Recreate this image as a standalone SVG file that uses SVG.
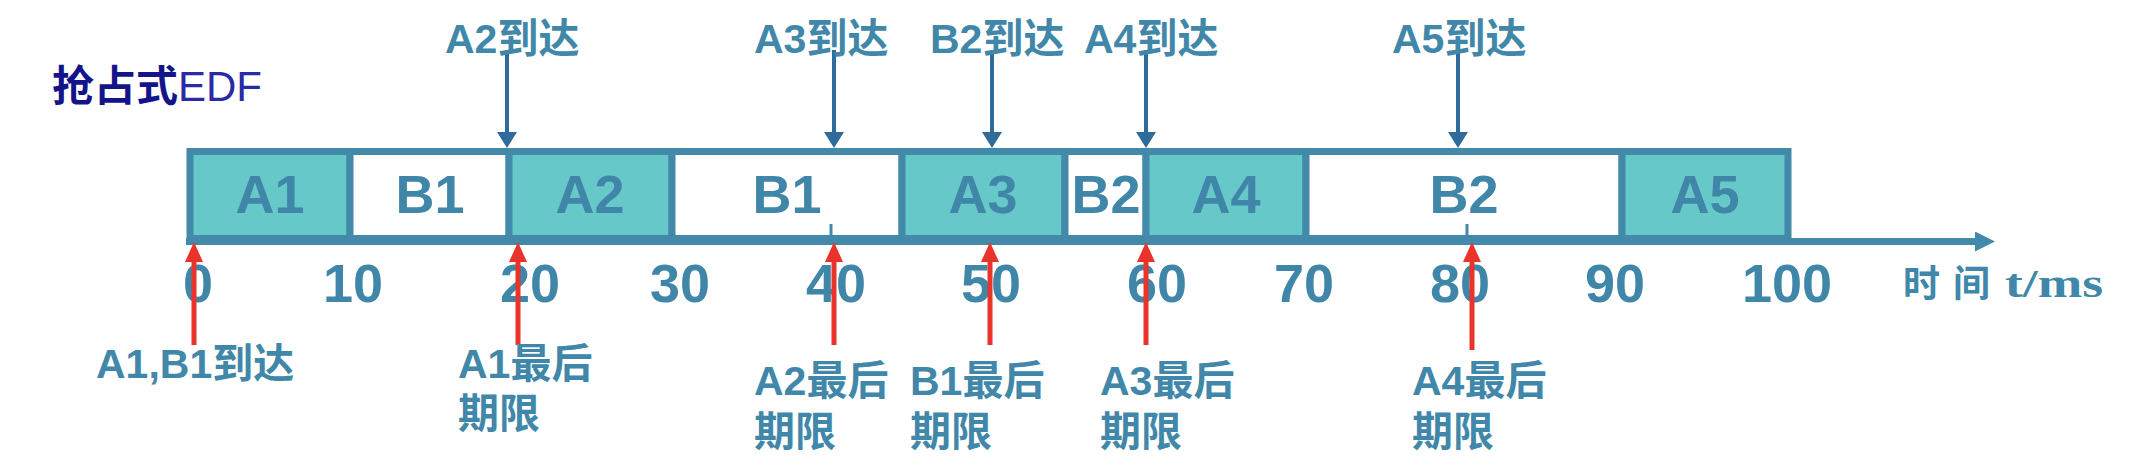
<svg xmlns="http://www.w3.org/2000/svg" width="2132" height="464" viewBox="0 0 2132 464">
<style>
.bg{fill:#ffffff}
.seg{stroke:#4389a9;stroke-width:7}
.a{fill:#66c8c9}
.b{fill:#ffffff}
.seglbl{font-family:"Liberation Sans","Noto Sans CJK SC",sans-serif;font-weight:bold;font-size:54px;fill:#3f86a8;text-anchor:middle}
.tick{font-family:"Liberation Sans",sans-serif;font-weight:bold;font-size:54px;fill:#3f86a8;text-anchor:middle}
.lbl{font-family:"Liberation Sans","Noto Sans CJK SC",sans-serif;font-weight:bold;font-size:41px;fill:#4087a9}
.down{stroke:#2f6b9b;stroke-width:4;fill:none}
.up{stroke:#e8342a;stroke-width:5;fill:none}
.axis{stroke:#4389a9;stroke-width:7;fill:none}
.mtick{stroke:#4389a9;stroke-width:3}
</style>
<defs>
<marker id="hDown" viewBox="0 0 16 20" refX="4" refY="10" markerWidth="16" markerHeight="20" markerUnits="userSpaceOnUse" orient="auto">
<path d="M0,0 L16,10 L0,20 z" fill="#2f6b9b"/>
</marker>
<marker id="hUp" viewBox="0 0 20 18" refX="6" refY="9" markerWidth="20" markerHeight="18" markerUnits="userSpaceOnUse" orient="auto">
<path d="M0,0 L20,9 L0,18 z" fill="#e8342a"/>
</marker>
<marker id="hAxis" viewBox="0 0 20 20" refX="5" refY="10" markerWidth="20" markerHeight="20" markerUnits="userSpaceOnUse" orient="auto">
<path d="M0,0 L20,10 L0,20 z" fill="#4389a9"/>
</marker>
</defs>
<rect class="bg" x="0" y="0" width="2132" height="464"/>

<g id="title">
<text x="52" y="101" style="font-family:'Noto Sans CJK SC',sans-serif;font-weight:bold;font-size:42px;fill:#14148a">抢占式<tspan style="font-family:'Liberation Sans',sans-serif;font-weight:normal;fill:#2a2aa6">EDF</tspan></text>
</g>

<g id="connectors">
<line class="axis" x1="186" y1="241.5" x2="1980" y2="241.5" marker-end="url(#hAxis)"/>
<line class="down" x1="507" y1="50" x2="507" y2="136" marker-end="url(#hDown)"/>
<line class="down" x1="834" y1="50" x2="834" y2="136" marker-end="url(#hDown)"/>
<line class="down" x1="992" y1="50" x2="992" y2="136" marker-end="url(#hDown)"/>
<line class="down" x1="1146" y1="50" x2="1146" y2="136" marker-end="url(#hDown)"/>
<line class="down" x1="1458" y1="50" x2="1458" y2="136" marker-end="url(#hDown)"/>
</g>

<g id="segments">
<g id="seg-A1"><rect class="seg a" x="190" y="151.5" width="160" height="87"/><text class="seglbl" x="270" y="213">A1</text></g>
<g id="seg-B1a"><rect class="seg b" x="350" y="151.5" width="159" height="87"/><text class="seglbl" x="430" y="213">B1</text></g>
<g id="seg-A2"><rect class="seg a" x="509" y="151.5" width="163" height="87"/><text class="seglbl" x="590" y="213">A2</text></g>
<g id="seg-B1b"><rect class="seg b" x="672" y="151.5" width="230" height="87"/><text class="seglbl" x="787" y="213">B1</text></g>
<g id="seg-A3"><rect class="seg a" x="902" y="151.5" width="163" height="87"/><text class="seglbl" x="983" y="213">A3</text></g>
<g id="seg-B2a"><rect class="seg b" x="1065" y="151.5" width="81" height="87"/><text class="seglbl" x="1106" y="213">B2</text></g>
<g id="seg-A4"><rect class="seg a" x="1146" y="151.5" width="160" height="87"/><text class="seglbl" x="1226" y="213">A4</text></g>
<g id="seg-B2b"><rect class="seg b" x="1306" y="151.5" width="316" height="87"/><text class="seglbl" x="1464" y="213">B2</text></g>
<g id="seg-A5"><rect class="seg a" x="1622" y="151.5" width="166" height="87"/><text class="seglbl" x="1705" y="213">A5</text></g>
<line class="mtick" x1="831" y1="224" x2="831" y2="238"/>
<line class="mtick" x1="1467" y1="224" x2="1467" y2="238"/>
</g>

<g id="ticks">
<text class="tick" x="198" y="302">0</text>
<text class="tick" x="353" y="302">10</text>
<text class="tick" x="530" y="302">20</text>
<text class="tick" x="680" y="302">30</text>
<text class="tick" x="836" y="302">40</text>
<text class="tick" x="991" y="302">50</text>
<text class="tick" x="1157" y="302">60</text>
<text class="tick" x="1304" y="302">70</text>
<text class="tick" x="1460" y="302">80</text>
<text class="tick" x="1615" y="302">90</text>
<text class="tick" x="1787" y="302">100</text>
</g>

<g id="deadlines">
<line class="up" x1="194" y1="345" x2="194" y2="256" marker-end="url(#hUp)"/>
<line class="up" x1="518" y1="345" x2="518" y2="256" marker-end="url(#hUp)"/>
<line class="up" x1="834" y1="345" x2="834" y2="256" marker-end="url(#hUp)"/>
<line class="up" x1="990" y1="345" x2="990" y2="256" marker-end="url(#hUp)"/>
<line class="up" x1="1146" y1="345" x2="1146" y2="256" marker-end="url(#hUp)"/>
<line class="up" x1="1472" y1="350" x2="1472" y2="256" marker-end="url(#hUp)"/>
</g>

<g id="arrivals">
<text class="lbl" x="445" y="53">A2到达</text>
<text class="lbl" x="754" y="53">A3到达</text>
<text class="lbl" x="930" y="53">B2到达</text>
<text class="lbl" x="1084" y="53">A4到达</text>
<text class="lbl" x="1392" y="53">A5到达</text>
</g>

<g id="labels">
<text class="lbl" x="96" y="378">A1,B1到达</text>
<text class="lbl" x="458" y="378">A1最后<tspan x="458" dy="50">期限</tspan></text>
<text class="lbl" x="754" y="395">A2最后<tspan x="754" dy="51">期限</tspan></text>
<text class="lbl" x="910" y="395">B1最后<tspan x="910" dy="51">期限</tspan></text>
<text class="lbl" x="1100" y="395">A3最后<tspan x="1100" dy="51">期限</tspan></text>
<text class="lbl" x="1412" y="395">A4最后<tspan x="1412" dy="51">期限</tspan></text>
</g>

<g id="axis-label">
<text y="297" style="font-family:'Liberation Serif','Noto Sans CJK SC',serif;font-weight:bold;font-size:37px;fill:#4087a9"><tspan x="1903" letter-spacing="13">时间</tspan> <tspan x="2005" textLength="98" lengthAdjust="spacingAndGlyphs" style="font-size:40px">t/ms</tspan></text>
</g>
</svg>
